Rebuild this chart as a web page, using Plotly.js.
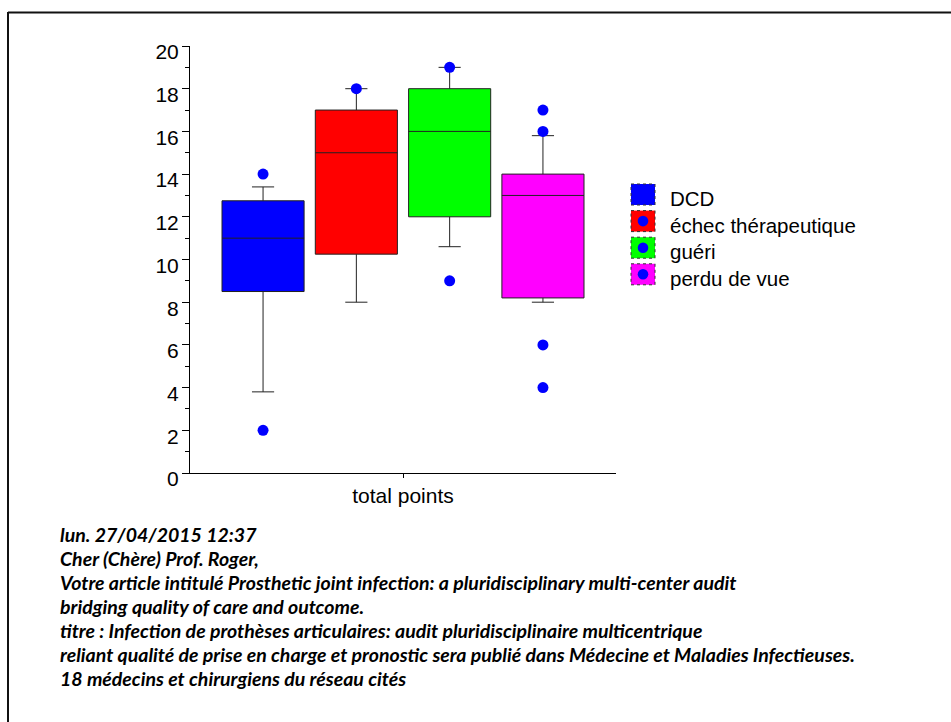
<!DOCTYPE html>
<html>
<head>
<meta charset="utf-8">
<script src="https://cdn.plot.ly/plotly-3.0.1.min.js"></script>
<style>
  html, body { margin: 0; padding: 0; background: #ffffff; }
  #chart { width: 951px; height: 722px; }
</style>
</head>
<body>
<div id="chart"></div>
<script>
// ---- data ----
const groups = ['DCD', 'échec thérapeutique', 'guéri', 'perdu de vue'];
const fillColors = ['#0000ff', '#ff0000', '#00ff00', '#ff00ff'];
const q1Values = [8.5, 10.25, 12, 8.2];
const medianValues = [11, 15, 16, 13];
const q3Values = [12.75, 17, 18, 14];
const lowerWhiskers = [3.8, 8, 10.6, 8];
const upperWhiskers = [13.4, 18, 19, 15.8];
const outlierValues = [[14, 2], [18], [19, 9], [17, 16, 6, 4]];
const xCategory = 'total points';
const noteLines = [
  'lun. 27/04/2015 12:37',
  'Cher (Chère) Prof. Roger,',
  'Votre article intitulé Prosthetic joint infection: a pluridisciplinary multi-center audit',
  'bridging quality of care and outcome.',
  'titre : Infection de prothèses articulaires: audit pluridisciplinaire multicentrique',
  'reliant qualité de prise en charge et pronostic sera publié dans Médecine et Maladies Infectieuses.',
  '18 médecins et chirurgiens du réseau cités'
];

// ---- layout geometry (pixels) ----
const W = 951, H = 722;
const M = { l: 190, r: 335, t: 46, b: 249 };
const plotW = W - M.l - M.r, plotH = H - M.t - M.b;
const px2x = px => (px - M.l) / plotW;
const px2y = py => (H - M.b - py) / plotH;

const sansFamily = 'Liberation Sans, Arial, sans-serif';
const axisFont = { family: sansFamily, size: 21, color: '#000000' };
const dotColor = '#0000ff';

const traces = [];
groups.forEach((g, i) => {
  traces.push({
    type: 'box',
    orientation: 'v',
    name: g,
    x: [i],
    q1: [q1Values[i]],
    median: [medianValues[i]],
    q3: [q3Values[i]],
    lowerfence: [lowerWhiskers[i]],
    upperfence: [upperWhiskers[i]],
    width: 0.88,
    whiskerwidth: 0.27,
    fillcolor: fillColors[i],
    line: { color: '#222222', width: 1 },
    boxpoints: false,
    showlegend: false
  });
});
groups.forEach((g, i) => {
  traces.push({
    type: 'scatter',
    mode: 'markers',
    name: g,
    x: outlierValues[i].map(() => i),
    y: outlierValues[i],
    marker: { color: dotColor, size: 11 },
    showlegend: false,
    cliponaxis: false
  });
});

const center = (groups.length - 1) / 2;
const halfSpan = 2.283;

// custom legend (icons as in the reference: colored square with blue dot)
const shapes = [];
const annotations = [];
const legX0 = 631, legX1 = 655, legTop = 184, legStep = 26.6, legH = 21;
groups.forEach((g, i) => {
  const top = legTop + i * legStep;
  shapes.push({
    type: 'rect', xref: 'paper', yref: 'paper',
    x0: px2x(legX0), x1: px2x(legX1), y0: px2y(top), y1: px2y(top + legH),
    fillcolor: fillColors[i], line: { color: '#333333', width: 1, dash: 'dot' }
  });
  const cx = (legX0 + legX1) / 2, cy = top + legH / 2, r = 5.3;
  shapes.push({
    type: 'circle', xref: 'paper', yref: 'paper',
    x0: px2x(cx - r), x1: px2x(cx + r), y0: px2y(cy - r), y1: px2y(cy + r),
    fillcolor: dotColor, line: { width: 0 }
  });
  annotations.push({
    xref: 'paper', yref: 'paper', x: px2x(668), y: px2y(cy + 4),
    xanchor: 'left', yanchor: 'middle', showarrow: false,
    text: g, font: { family: sansFamily, size: 20.5, color: '#000000' }
  });
});

// page frame (top and left border)
shapes.push({ type: 'line', xref: 'paper', yref: 'paper',
  x0: px2x(8), x1: px2x(W + 5), y0: px2y(12.5), y1: px2y(12.5),
  line: { color: '#111111', width: 2 } });
shapes.push({ type: 'line', xref: 'paper', yref: 'paper',
  x0: px2x(8), x1: px2x(8), y0: px2y(12), y1: px2y(H + 5),
  line: { color: '#111111', width: 2 } });

// note text block, one line per annotation
const noteTop = 534, noteStep = 24;
noteLines.forEach((s, i) => {
  annotations.push({
    xref: 'paper', yref: 'paper', x: px2x(58), y: px2y(noteTop + i * noteStep),
    xanchor: 'left', yanchor: 'middle', align: 'left', showarrow: false,
    text: '<b><i>' + s + '</i></b>',
    font: { family: 'Lato, Open Sans, sans-serif', size: 19.5, color: '#000000' }
  });
});

const layout = {
  width: W, height: H,
  margin: M,
  paper_bgcolor: '#ffffff', plot_bgcolor: '#ffffff',
  showlegend: false,
  boxmode: 'overlay',
  xaxis: {
    type: 'linear',
    range: [center - halfSpan, center + halfSpan],
    tickmode: 'array', tickvals: [center], ticktext: [xCategory],
    ticks: 'outside', ticklen: 4, tickcolor: '#000000',
    showline: true, linecolor: '#000000', linewidth: 1,
    showgrid: false, zeroline: false,
    tickfont: axisFont
  },
  yaxis: {
    range: [0, 20], tick0: 0, dtick: 2,
    ticks: 'outside', ticklen: 7, tickcolor: '#000000',
    ticklabelshift: 6, ticklabelstandoff: -1,
    minor: { dtick: 1, ticks: 'outside', ticklen: 4, tickcolor: '#000000', showgrid: false },
    showline: true, linecolor: '#000000', linewidth: 1,
    showgrid: false, zeroline: false,
    tickfont: axisFont
  },
  shapes: shapes,
  annotations: annotations
};

Plotly.newPlot('chart', traces, layout, { staticPlot: true, displayModeBar: false });
</script>
</body>
</html>
